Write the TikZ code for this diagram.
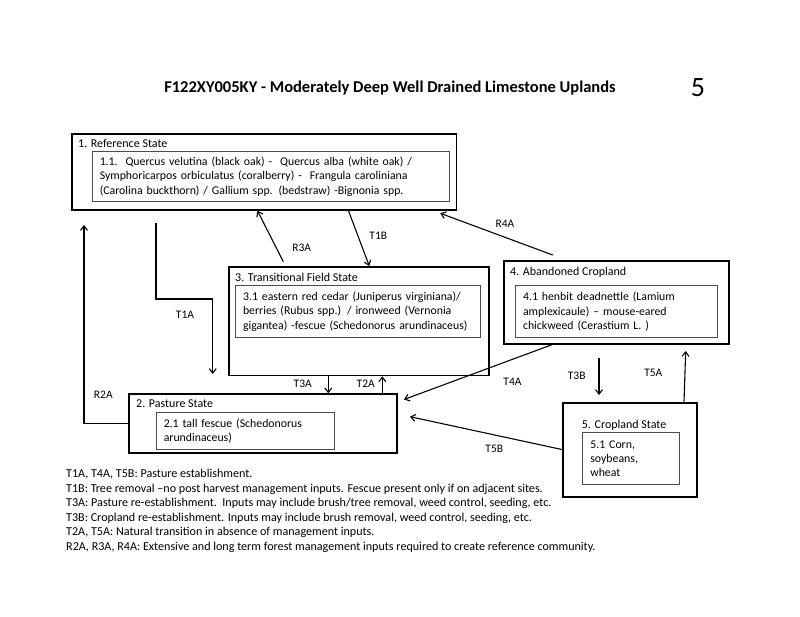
\documentclass[tikz,border=0pt]{standalone}
\usepackage{fontspec}
\setmainfont{Carlito}
\usepackage{tikz}
\usetikzlibrary{arrows.meta,positioning}
\newcommand{\notefont}{\fontsize{11.8}{14.3}\selectfont}
\newcommand{\legendfont}{\fontsize{12.1}{14.6}\selectfont}

\begin{document}
\begin{tikzpicture}[x=1pt, y=-1pt,
	statebox/.style={draw, line width=1.8, inner sep=0, anchor=north west},
	commbox/.style={draw=black!70, line width=1.1, inner xsep=7.5, inner ysep=0, anchor=north west, align=left, font=\notefont},
	statetitle/.style={font=\fontsize{12}{14}\selectfont, inner sep=0, anchor=base west},
	lbl/.style={font=\fontsize{11.5}{14}\selectfont, inner sep=0},
	arr/.style={-{Straight Barb[length=4.5, width=7]}, line width=1.1}
]
\fill[white] (0,0) rectangle (800,617);

\node[font=\fontsize{16.5}{19}\selectfont\bfseries, inner sep=0, anchor=base] (title) at (390,93) {F122XY005KY - Moderately Deep Well Drained Limestone Uplands};
\node[font=\fontsize{28}{30}\selectfont, inner sep=0] (num) at (698,88) {5};

% states
\node[statebox, minimum width=384.5, minimum height=76] (ref) at (71,133) {};
\node[statetitle] at ([shift={(7,15)}]ref.north west) {1. Reference State};
\node[commbox, text width=342.6, minimum height=50] (refc) at (91.7,151) {1.1.\ \ Quercus velutina (black oak) -\ \ Quercus alba (white oak) /\\Symphoricarpos orbiculatus (coralberry) -\ \ Frangula caroliniana\\(Carolina buckthorn) / Gallium spp. (bedstraw) -Bignonia spp.};

\node[statebox, minimum width=259.4, minimum height=108.5] (trans) at (228.3,266) {};
\node[statetitle] at ([shift={(6.7,15.2)}]trans.north west) {3. Transitional Field State};
\node[commbox, text width=230, minimum height=51.7] (transc) at (235,285) {3.1 eastern red cedar (Juniperus virginiana)/\\berries (Rubus spp.) / ironweed (Vernonia\\gigantea) -fescue (Schedonorus arundinaceus)};

\node[statebox, minimum width=224.7, minimum height=82.5] (aband) at (503.3,260.5) {};
\node[statetitle] at ([shift={(6.7,15.3)}]aband.north west) {4. Abandoned Cropland};
\node[commbox, text width=186.7, minimum height=52.3] (abandc) at (515,285) {4.1 henbit deadnettle (Lamium\\amplexicaule) -- mouse-eared\\chickweed (Cerastium L. )};

\node[statebox, minimum width=267.4, minimum height=58.4] (past) at (128.3,393.3) {};
\node[statetitle] at ([shift={(7.7,14.5)}]past.north west) {2. Pasture State};
\node[commbox, text width=163.3, minimum height=37.6] (pastc) at (155.7,411.7) {2.1 tall fescue (Schedonorus\\arundinaceus)};

\node[statebox, minimum width=133.7, minimum height=94] (crop) at (562.3,401.7) {};
\node[statetitle] at ([shift={(19.4,26.8)}]crop.north west) {5. Cropland State};
\node[commbox, text width=82, minimum height=51.7] (cropc) at (582.3,432.3) {5.1 Corn,\\soybeans,\\wheat};

% free ends
\coordinate (t1a) at (156,223);
\coordinate (t1aend) at (212.7,374);
\coordinate (r2a) at (84,225);
\coordinate (r3a) at (283.3,261.7);
\coordinate (r4a) at (552.7,255);
\coordinate (t3a) at (328.3,0);
\coordinate (t2a) at (382.3,0);
\coordinate (t4a) at (404,399.5);
\coordinate (t3b) at (599,357.5);
\coordinate (t3bend) at (599,395);
\coordinate (t5a) at (685.7,351);
\coordinate (t5b) at (410,416.7);

% transitions
\draw[arr] (t1a) -- ++(0,76) -| (t1aend);
\draw[arr] (past.west) -| (r2a);
\draw[arr] (r3a) -- ([xshift=186.5]ref.south west);
\draw[arr] ([xshift=277.5]ref.south west) -- ([xshift=141]trans.north west);
\draw[arr] (r4a) -- ([shift={(-17,2.5)}]ref.south east);
\draw[arr] (trans.south -| t3a) -- (past.north -| t3a);
\draw[arr] (past.north -| t2a) -- (trans.south -| t2a);
\draw[arr] ([xshift=48.4]aband.south west) -- (t4a);
\draw[arr] (t3b) -- (t3bend);
\draw[arr] ([xshift=121.7]crop.north west) -- (t5a);
\draw[arr] (crop.west) -- (t5b);

\node[lbl] (lr3a) at (301.7,248.3) {R3A};
\node[lbl] (lt1b) at (378.3,236) {T1B};
\node[lbl] (lr4a) at (505,224.3) {R4A};
\node[lbl] (lt1a) at (185,315) {T1A};
\node[lbl] (lr2a) at (103.3,394.3) {R2A};
\node[lbl] (lt3a) at (302.7,384) {T3A};
\node[lbl] (lt2a) at (365.7,384) {T2A};
\node[lbl] (lt4a) at (512.5,382) {T4A};
\node[lbl] (lt3b) at (576.7,376) {T3B};
\node[lbl] (lt5a) at (653.3,372.7) {T5A};
\node[lbl] (lt5b) at (494.3,449.3) {T5B};

% notes
\node[font=\legendfont, inner sep=0, anchor=west, align=left] (notes) at (66,510.8) {T1A, T4A, T5B: Pasture establishment.\\
T1B: Tree removal --no post harvest management inputs. Fescue present only if on adjacent sites.\\
T3A: Pasture re-establishment.\ \ Inputs may include brush/tree removal, weed control, seeding, etc.\\
T3B: Cropland re-establishment. Inputs may include brush removal, weed control, seeding, etc.\\
T2A, T5A: Natural transition in absence of management inputs.\\
R2A, R3A, R4A: Extensive and long term forest management inputs required to create reference community.};
\end{tikzpicture}
\end{document}
